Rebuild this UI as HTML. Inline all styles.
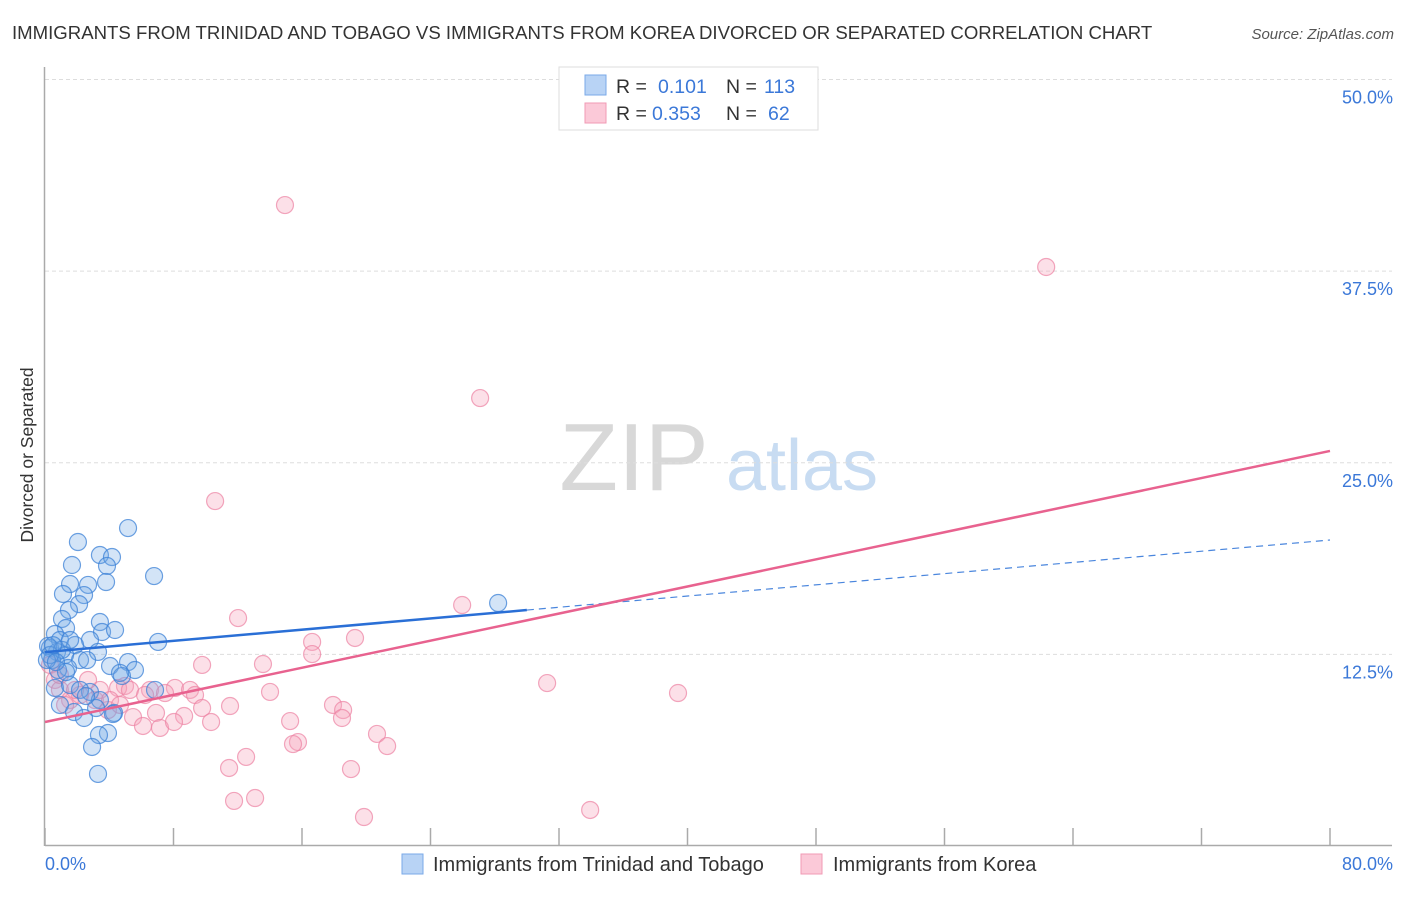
<!DOCTYPE html>
<html><head><meta charset="utf-8"><style>
body{margin:0;background:#fff;font-family:"Liberation Sans",sans-serif;}
svg text{font-family:"Liberation Sans",sans-serif;}
</style></head><body>
<svg id="chart" width="1406" height="892" xmlns="http://www.w3.org/2000/svg">
<text x="12" y="39" font-size="18.6" fill="#333">IMMIGRANTS FROM TRINIDAD AND TOBAGO VS IMMIGRANTS FROM KOREA DIVORCED OR SEPARATED CORRELATION CHART</text>
<text x="1394" y="39" font-size="15" fill="#555" text-anchor="end" font-style="italic">Source: ZipAtlas.com</text>
<g>
<text x="634" y="490" font-size="96" fill="#d8d8d8" text-anchor="middle" font-family="Liberation Serif, serif">ZIP</text>
<text x="802" y="490" font-size="72" fill="#c8dcf2" text-anchor="middle">atlas</text>
</g>
<g id="grid"></g>
<g id="axes"></g>
<g id="pts"></g>
<g id="trend"></g>
<text transform="translate(33,455) rotate(-90)" font-size="17.5" fill="#333" text-anchor="middle">Divorced or Separated</text>
<g>
<rect x="559" y="67" width="259" height="63" fill="#fff" stroke="#ddd"/>
<rect x="585" y="75" width="21" height="20" fill="#b8d3f5" stroke="#7aaae8"/>
<rect x="585" y="103" width="21" height="20" fill="#fbc9d8" stroke="#f09ab4"/>
<text x="616" y="93" font-size="19.5" fill="#333">R =</text>
<text x="658" y="93" font-size="19.5" fill="#3b78d8">0.101</text>
<text x="726" y="93" font-size="19.5" fill="#333">N =</text>
<text x="764" y="93" font-size="19.5" fill="#3b78d8">113</text>
<text x="616" y="120" font-size="19.5" fill="#333">R =</text>
<text x="652" y="120" font-size="19.5" fill="#3b78d8">0.353</text>
<text x="726" y="120" font-size="19.5" fill="#333">N =</text>
<text x="768" y="120" font-size="19.5" fill="#3b78d8">62</text>
</g>
<g>
<rect x="402" y="854" width="21" height="20" fill="#b8d3f5" stroke="#7aaae8"/>
<text x="433" y="871" font-size="20" fill="#333">Immigrants from Trinidad and Tobago</text>
<rect x="801" y="854" width="21" height="20" fill="#fbc9d8" stroke="#f09ab4"/>
<text x="833" y="871" font-size="20" fill="#333">Immigrants from Korea</text>
</g>
</svg>
<script>
const xTicks=[0,8,16,24,32,40,48,56,64,72,80];
const yTicks=[12.5,25,37.5,50];
const yTickLabels=["12.5%","25.0%","37.5%","50.0%"];
const xEndLabels=["0.0%","80.0%"];
const blueX=[5.17,2.05,3.42,4.17,1.68,3.86,6.79,3.80,1.56,2.68,1.12,2.43,2.12,1.49,28.21,1.06,3.42,1.31,3.55,4.36,7.04,0.62,2.80,0.93,1.87,0.31,0.75,1.25,3.30,2.18,5.17,4.05,2.62,5.60,1.43,4.79,4.67,0.44,0.62,1.56,2.80,3.42,0.93,6.85,4.30,1.81,3.18,2.43,3.92,3.36,2.93,3.30,0.19,1.06,1.56,0.81,1.31,2.18,2.55,4.23,0.31,0.5,0.12,0.68];
const blueY=[20.74,19.83,18.98,18.85,18.33,18.27,17.61,17.22,17.09,17.03,16.44,16.37,15.78,15.39,15.85,14.81,14.61,14.22,13.96,14.09,13.31,13.83,13.44,13.44,13.11,12.92,12.66,12.46,12.66,12.13,12.00,11.74,12.13,11.48,11.61,11.09,11.29,12.13,10.31,10.50,10.05,9.52,9.20,10.18,8.68,8.74,9.00,8.35,7.37,7.24,6.46,4.70,13.05,12.79,13.44,11.48,11.35,10.18,9.78,8.61,12.46,13.1,12.13,12.0];
const pinkX=[14.94,62.33,27.09,10.59,25.97,12.02,16.63,19.30,16.63,9.78,13.57,31.26,39.41,14.01,4.98,6.54,8.09,9.03,9.34,11.52,9.78,17.93,18.56,18.49,15.26,10.34,8.66,6.91,5.48,7.16,6.10,8.03,20.67,15.75,15.44,21.30,12.52,11.46,19.05,11.77,13.08,19.86,33.94,0.31,0.62,0.93,1.56,2.18,3.11,3.92,4.55,5.29,3.42,2.68,1.25,1.87,4.05,6.23,7.47,4.67,0.93];
const pinkY=[41.81,37.77,29.22,22.50,15.72,14.87,13.31,13.57,12.52,11.81,11.87,10.63,9.98,10.05,10.44,10.18,10.31,10.18,9.85,9.13,9.00,9.20,8.87,8.35,8.15,8.09,8.48,8.68,8.41,7.70,7.83,8.09,7.31,6.78,6.65,6.52,5.81,5.09,5.02,2.94,3.13,1.89,2.35,11.81,10.83,10.18,9.52,9.85,9.52,8.87,10.31,10.18,10.18,10.83,9.20,10.18,9.52,9.85,9.98,9.20,11.15];
const blueTrend=[12.65,19.96];
const pinkTrend=[8.09,25.77];
const blueSolidEnd=30;

const NS="http://www.w3.org/2000/svg";
const X=v=>45+v*(1285/80);
const Y=v=>846-v*15.33;
function mk(tag,attrs,parent){const e=document.createElementNS(NS,tag);for(const k in attrs)e.setAttribute(k,attrs[k]);parent.appendChild(e);return e;}
const grid=document.getElementById('grid'),axes=document.getElementById('axes'),pts=document.getElementById('pts'),trend=document.getElementById('trend');
yTicks.forEach((t,i)=>{
 const l=mk('line',{x1:45,x2:1392,y1:Y(t),y2:Y(t),stroke:'#ddd','stroke-dasharray':'4,3'},grid);
 
 
 const tx=mk('text',{x:1393,y:Y(t)+24,'font-size':18,fill:'#3b78d8','text-anchor':'end'},axes);
 tx.textContent=yTickLabels[i];
 
 
});
const ya=mk('line',{x1:44.5,x2:44.5,y1:67,y2:846,stroke:'#aaa','stroke-width':1.5},axes);


const xa=mk('line',{x1:45,x2:1392,y1:845.5,y2:845.5,stroke:'#aaa','stroke-width':1.5},axes);


xTicks.forEach(t=>{
 const l=mk('line',{x1:X(t),x2:X(t),y1:828,y2:846,stroke:'#aaa','stroke-width':1.5},axes);
 
 
});
const xl0=mk('text',{x:45,y:870,'font-size':18,fill:'#3b78d8'},axes);xl0.textContent=xEndLabels[0];


const xl1=mk('text',{x:1393,y:870,'font-size':18,fill:'#3b78d8','text-anchor':'end'},axes);xl1.textContent=xEndLabels[1];


pinkX.forEach((x,i)=>{
 const c=mk('circle',{cx:X(x),cy:Y(pinkY[i]),r:8.5,fill:'rgba(246,165,190,0.35)',stroke:'rgba(236,130,162,0.7)','stroke-width':1.2},pts);
 
 
});
blueX.forEach((x,i)=>{
 const c=mk('circle',{cx:X(x),cy:Y(blueY[i]),r:8.5,fill:'rgba(110,165,230,0.3)',stroke:'rgba(60,130,215,0.75)','stroke-width':1.2},pts);
 
 
});
const bAt=v=>blueTrend[0]+(blueTrend[1]-blueTrend[0])*v/80;
const b1=mk('line',{x1:X(0),y1:Y(bAt(0)),x2:X(blueSolidEnd),y2:Y(bAt(blueSolidEnd)),stroke:'#2a6fd6','stroke-width':2.5},trend);


const b2=mk('line',{x1:X(blueSolidEnd),y1:Y(bAt(blueSolidEnd)),x2:X(80),y2:Y(bAt(80)),stroke:'#4a86dd','stroke-width':1.2,'stroke-dasharray':'7,5'},trend);


const p1=mk('line',{x1:X(0),y1:Y(pinkTrend[0]),x2:X(80),y2:Y(pinkTrend[1]),stroke:'#e8628f','stroke-width':2.5},trend);


</script>
</body></html>
